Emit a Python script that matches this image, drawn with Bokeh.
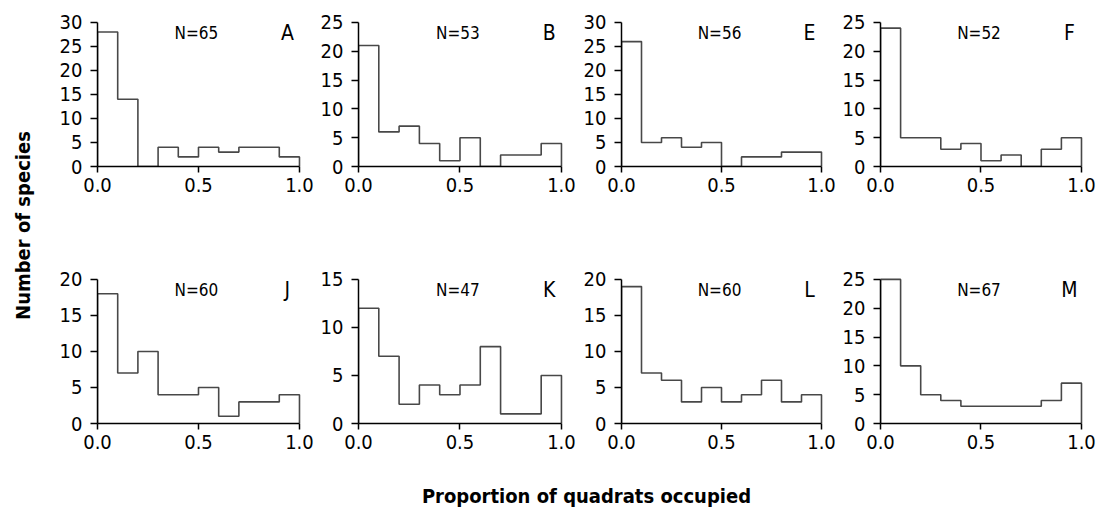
import math
from bokeh.plotting import figure
from bokeh.layouts import row, column
from bokeh.models import Range1d, FixedTicker, PrintfTickFormatter
from bokeh.embed import file_html
from bokeh.resources import INLINE
from bokeh.core.properties import value

# ---------------- data ----------------
bin_edges = [0.0, 0.1, 0.2, 0.3, 0.4, 0.5, 0.6, 0.7, 0.8, 0.9, 1.0]
panel_letters = ["A", "B", "E", "F", "J", "K", "L", "M"]
n_labels = ["N=65", "N=53", "N=56", "N=52", "N=60", "N=47", "N=60", "N=67"]
y_max = [30, 25, 30, 25, 20, 15, 20, 25]
counts_A = [28, 14, 0, 4, 2, 4, 3, 4, 4, 2]
counts_B = [21, 6, 7, 4, 1, 5, 0, 2, 2, 4]
counts_E = [26, 5, 6, 4, 5, 0, 2, 2, 3, 3]
counts_F = [24, 5, 5, 3, 4, 1, 2, 0, 3, 5]
counts_J = [18, 7, 10, 4, 4, 5, 1, 3, 3, 4]
counts_K = [12, 7, 2, 4, 3, 4, 8, 1, 1, 5]
counts_L = [19, 7, 6, 3, 5, 3, 4, 6, 3, 4]
counts_M = [25, 10, 5, 4, 3, 3, 3, 3, 4, 7]
x_ticks = [0.0, 0.5, 1.0]
x_title = "Proportion of quadrats occupied"
y_title = "Number of species"

all_counts = [counts_A, counts_B, counts_E, counts_F,
              counts_J, counts_K, counts_L, counts_M]

FONT = "'DejaVu Sans Condensed', 'Liberation Sans Narrow', sans-serif"
LINE_COLOR = "#484848"

# layout (pixels)
col_border_left = [49, 44, 44, 44]
col_frame_w = [204, 205, 202, 203]
col_width = [266, 263, 259, 260]
row_border_top = [19, 18]
row_height = [258, 195]
frame_h = 147
X_END = 1.01
Y_PAD = 1.02


def step_xy(counts):
    xs, ys = [bin_edges[0]], [0]
    for i, c in enumerate(counts):
        xs += [bin_edges[i], bin_edges[i + 1]]
        ys += [c, c]
    xs.append(bin_edges[-1])
    ys.append(0)
    return xs, ys


def panel(idx):
    r, c = divmod(idx, 4)
    ymax = y_max[idx]
    p = figure(
        frame_width=col_frame_w[c], frame_height=frame_h,
        min_border_left=col_border_left[c],
        min_border_right=col_width[c] - col_border_left[c] - col_frame_w[c],
        min_border_top=row_border_top[r],
        min_border_bottom=row_height[r] - row_border_top[r] - frame_h,
        x_range=Range1d(0, X_END), y_range=Range1d(0, ymax * Y_PAD),
        output_backend="svg", toolbar_location=None,
    )
    p.grid.visible = False
    p.outline_line_color = None
    p.background_fill_color = "white"
    p.border_fill_color = "white"

    xs, ys = step_xy(all_counts[idx])
    p.line(xs, ys, line_color=LINE_COLOR, line_width=1.6)

    for ax in (p.xaxis[0], p.yaxis[0]):
        ax.axis_line_color = "black"
        ax.axis_line_width = 1.5
        ax.major_tick_line_color = "black"
        ax.major_tick_line_width = 1.5
        ax.major_tick_in = 0
        ax.minor_tick_line_color = None
        ax.major_label_text_font = FONT
        ax.major_label_text_font_size = "20px"
        ax.major_label_text_color = "black"

    p.xaxis.ticker = FixedTicker(ticks=x_ticks)
    p.xaxis.formatter = PrintfTickFormatter(format="%.1f")
    p.xaxis.bounds = (0, 1)
    p.xaxis.major_tick_out = 6
    p.xaxis.major_label_standoff = 5

    p.yaxis.ticker = FixedTicker(ticks=list(range(0, ymax + 1, 5)))
    p.yaxis.bounds = (0, ymax)
    p.yaxis.major_tick_out = 7
    p.yaxis.major_label_standoff = 8

    p.text(x=[0.49], y=[ymax * 0.925], text=[n_labels[idx]],
           text_font=value(FONT), text_font_size="17px",
           text_align="center", text_baseline="middle", text_color="black")
    p.text(x=[0.94], y=[ymax * 0.925], text=[panel_letters[idx]],
           text_font=value(FONT), text_font_size="21px",
           text_align="center", text_baseline="middle", text_color="black")
    return p


panels = [panel(i) for i in range(8)]

# y title figure
yt = figure(width=48, height=510, x_range=Range1d(0, 48), y_range=Range1d(0, 510),
            x_axis_location=None, y_axis_location=None, min_border=0,
            output_backend="svg", toolbar_location=None)
yt.grid.visible = False
yt.outline_line_color = None
yt.text(x=[22], y=[285], text=[y_title], angle=math.pi / 2,
        text_font=value(FONT), text_font_style="bold", text_font_size="20px",
        text_align="center", text_baseline="middle", text_color="black")

# x title figure
xt = figure(width=1048, height=57, x_range=Range1d(0, 1048), y_range=Range1d(0, 57),
            x_axis_location=None, y_axis_location=None, min_border=0,
            output_backend="svg", toolbar_location=None)
xt.grid.visible = False
xt.outline_line_color = None
xt.text(x=[538], y=[15], text=[x_title],
        text_font=value(FONT), text_font_style="bold", text_font_size="20px",
        text_align="center", text_baseline="middle", text_color="black")

layout = row(yt, column(row(*panels[:4]), row(*panels[4:]), xt))

open("out.html", "w").write(file_html(layout, INLINE))
